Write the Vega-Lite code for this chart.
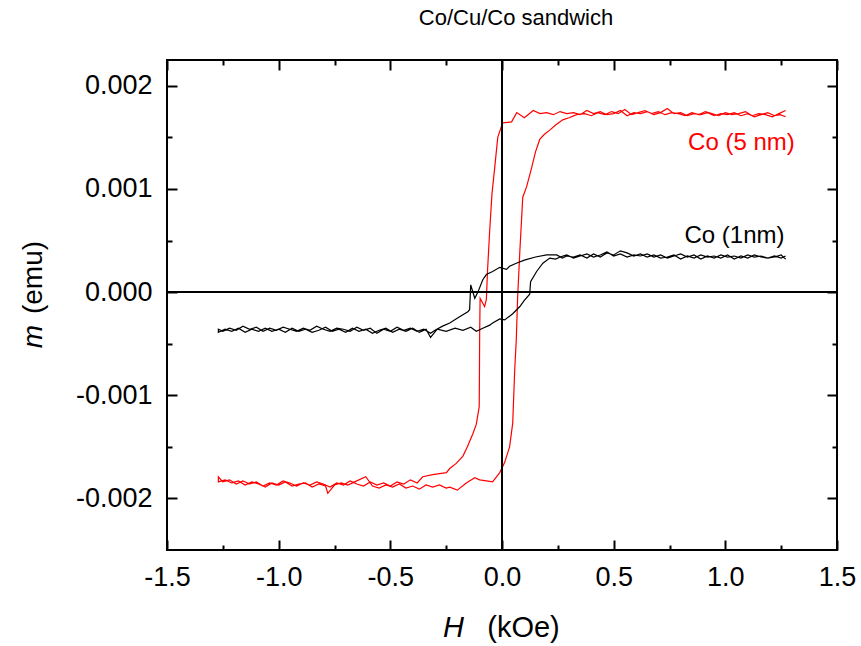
{
  "$schema": "https://vega.github.io/schema/vega-lite/v6.json",
  "width": 670,
  "height": 490,
  "autosize": {"type": "none"},
  "padding": {"left": 167, "top": 60, "right": 24, "bottom": 96},
  "title": {"text": "Co/Cu/Co sandwich", "font": "Liberation Sans", "fontSize": 22, "fontWeight": "normal", "color": "black", "anchor": "middle", "dx": 14, "offset": 12, "baseline": "alphabetic"},
  "config": {
    "view": {"stroke": "black", "strokeWidth": 2},
    "axis": {"grid": false, "domain": false, "ticks": true, "tickColor": "black", "tickWidth": 2, "labelFont": "Liberation Sans", "labelFontSize": 27, "labelColor": "black", "labelFlush": false, "labelOverlap": false, "labelBound": false, "titleFont": "Liberation Sans", "titleFontSize": 28, "titleFontWeight": "normal", "titleColor": "black"}
  },
  "resolve": {"axis": {"x": "independent", "y": "independent"}},
  "layer": [
    {
      "data": {"values": [
        {"s":"Co (5 nm)","i":0,"H":1.27,"m":0.00170},
        {"s":"Co (5 nm)","i":1,"H":1.245,"m":0.00172},
        {"s":"Co (5 nm)","i":2,"H":1.22,"m":0.00171},
        {"s":"Co (5 nm)","i":3,"H":1.19,"m":0.00174},
        {"s":"Co (5 nm)","i":4,"H":1.16,"m":0.00172},
        {"s":"Co (5 nm)","i":5,"H":1.13,"m":0.00170},
        {"s":"Co (5 nm)","i":6,"H":1.10,"m":0.00173},
        {"s":"Co (5 nm)","i":7,"H":1.07,"m":0.00171},
        {"s":"Co (5 nm)","i":8,"H":1.04,"m":0.00174},
        {"s":"Co (5 nm)","i":9,"H":1.01,"m":0.00172},
        {"s":"Co (5 nm)","i":10,"H":0.98,"m":0.00173},
        {"s":"Co (5 nm)","i":11,"H":0.95,"m":0.00171},
        {"s":"Co (5 nm)","i":12,"H":0.92,"m":0.00174},
        {"s":"Co (5 nm)","i":13,"H":0.89,"m":0.00172},
        {"s":"Co (5 nm)","i":14,"H":0.86,"m":0.00173},
        {"s":"Co (5 nm)","i":15,"H":0.83,"m":0.00171},
        {"s":"Co (5 nm)","i":16,"H":0.80,"m":0.00174},
        {"s":"Co (5 nm)","i":17,"H":0.77,"m":0.00173},
        {"s":"Co (5 nm)","i":18,"H":0.74,"m":0.00178},
        {"s":"Co (5 nm)","i":19,"H":0.71,"m":0.00174},
        {"s":"Co (5 nm)","i":20,"H":0.68,"m":0.00172},
        {"s":"Co (5 nm)","i":21,"H":0.65,"m":0.00175},
        {"s":"Co (5 nm)","i":22,"H":0.62,"m":0.00173},
        {"s":"Co (5 nm)","i":23,"H":0.59,"m":0.00174},
        {"s":"Co (5 nm)","i":24,"H":0.56,"m":0.00171},
        {"s":"Co (5 nm)","i":25,"H":0.53,"m":0.00176},
        {"s":"Co (5 nm)","i":26,"H":0.50,"m":0.00173},
        {"s":"Co (5 nm)","i":27,"H":0.47,"m":0.00172},
        {"s":"Co (5 nm)","i":28,"H":0.44,"m":0.00175},
        {"s":"Co (5 nm)","i":29,"H":0.41,"m":0.00173},
        {"s":"Co (5 nm)","i":30,"H":0.38,"m":0.00176},
        {"s":"Co (5 nm)","i":31,"H":0.35,"m":0.00172},
        {"s":"Co (5 nm)","i":32,"H":0.32,"m":0.00174},
        {"s":"Co (5 nm)","i":33,"H":0.29,"m":0.00173},
        {"s":"Co (5 nm)","i":34,"H":0.26,"m":0.00175},
        {"s":"Co (5 nm)","i":35,"H":0.23,"m":0.00172},
        {"s":"Co (5 nm)","i":36,"H":0.20,"m":0.00174},
        {"s":"Co (5 nm)","i":37,"H":0.17,"m":0.00173},
        {"s":"Co (5 nm)","i":38,"H":0.14,"m":0.00176},
        {"s":"Co (5 nm)","i":39,"H":0.10,"m":0.00169},
        {"s":"Co (5 nm)","i":40,"H":0.066,"m":0.00174},
        {"s":"Co (5 nm)","i":41,"H":0.043,"m":0.00165},
        {"s":"Co (5 nm)","i":42,"H":0.003,"m":0.00164},
        {"s":"Co (5 nm)","i":43,"H":-0.019,"m":0.00150},
        {"s":"Co (5 nm)","i":44,"H":-0.033,"m":0.00120},
        {"s":"Co (5 nm)","i":45,"H":-0.045,"m":0.00095},
        {"s":"Co (5 nm)","i":46,"H":-0.055,"m":0.00060},
        {"s":"Co (5 nm)","i":47,"H":-0.065,"m":0.00020},
        {"s":"Co (5 nm)","i":48,"H":-0.070,"m":-0.00007},
        {"s":"Co (5 nm)","i":49,"H":-0.078,"m":-0.00014},
        {"s":"Co (5 nm)","i":50,"H":-0.098,"m":-0.00006},
        {"s":"Co (5 nm)","i":51,"H":-0.100,"m":-0.00040},
        {"s":"Co (5 nm)","i":52,"H":-0.101,"m":-0.00080},
        {"s":"Co (5 nm)","i":53,"H":-0.102,"m":-0.00111},
        {"s":"Co (5 nm)","i":54,"H":-0.115,"m":-0.00128},
        {"s":"Co (5 nm)","i":55,"H":-0.130,"m":-0.00137},
        {"s":"Co (5 nm)","i":56,"H":-0.155,"m":-0.00150},
        {"s":"Co (5 nm)","i":57,"H":-0.175,"m":-0.00159},
        {"s":"Co (5 nm)","i":58,"H":-0.205,"m":-0.00166},
        {"s":"Co (5 nm)","i":59,"H":-0.234,"m":-0.00171},
        {"s":"Co (5 nm)","i":60,"H":-0.249,"m":-0.00175},
        {"s":"Co (5 nm)","i":61,"H":-0.28,"m":-0.00176},
        {"s":"Co (5 nm)","i":62,"H":-0.31,"m":-0.00177},
        {"s":"Co (5 nm)","i":63,"H":-0.355,"m":-0.00179},
        {"s":"Co (5 nm)","i":64,"H":-0.38,"m":-0.00185},
        {"s":"Co (5 nm)","i":65,"H":-0.41,"m":-0.00182},
        {"s":"Co (5 nm)","i":66,"H":-0.44,"m":-0.00186},
        {"s":"Co (5 nm)","i":67,"H":-0.47,"m":-0.00184},
        {"s":"Co (5 nm)","i":68,"H":-0.50,"m":-0.00188},
        {"s":"Co (5 nm)","i":69,"H":-0.53,"m":-0.00185},
        {"s":"Co (5 nm)","i":70,"H":-0.56,"m":-0.00187},
        {"s":"Co (5 nm)","i":71,"H":-0.59,"m":-0.00184},
        {"s":"Co (5 nm)","i":72,"H":-0.62,"m":-0.00188},
        {"s":"Co (5 nm)","i":73,"H":-0.65,"m":-0.00186},
        {"s":"Co (5 nm)","i":74,"H":-0.68,"m":-0.00183},
        {"s":"Co (5 nm)","i":75,"H":-0.71,"m":-0.00187},
        {"s":"Co (5 nm)","i":76,"H":-0.74,"m":-0.00185},
        {"s":"Co (5 nm)","i":77,"H":-0.77,"m":-0.00189},
        {"s":"Co (5 nm)","i":78,"H":-0.80,"m":-0.00186},
        {"s":"Co (5 nm)","i":79,"H":-0.83,"m":-0.00184},
        {"s":"Co (5 nm)","i":80,"H":-0.86,"m":-0.00187},
        {"s":"Co (5 nm)","i":81,"H":-0.89,"m":-0.00185},
        {"s":"Co (5 nm)","i":82,"H":-0.92,"m":-0.00188},
        {"s":"Co (5 nm)","i":83,"H":-0.95,"m":-0.00185},
        {"s":"Co (5 nm)","i":84,"H":-0.98,"m":-0.00183},
        {"s":"Co (5 nm)","i":85,"H":-1.01,"m":-0.00187},
        {"s":"Co (5 nm)","i":86,"H":-1.04,"m":-0.00185},
        {"s":"Co (5 nm)","i":87,"H":-1.07,"m":-0.00188},
        {"s":"Co (5 nm)","i":88,"H":-1.10,"m":-0.00184},
        {"s":"Co (5 nm)","i":89,"H":-1.13,"m":-0.00186},
        {"s":"Co (5 nm)","i":90,"H":-1.16,"m":-0.00183},
        {"s":"Co (5 nm)","i":91,"H":-1.19,"m":-0.00186},
        {"s":"Co (5 nm)","i":92,"H":-1.22,"m":-0.00182},
        {"s":"Co (5 nm)","i":93,"H":-1.25,"m":-0.00184},
        {"s":"Co (5 nm)","i":94,"H":-1.27,"m":-0.00179},
        {"s":"Co (5 nm)","i":95,"H":-1.27,"m":-0.00184},
        {"s":"Co (5 nm)","i":96,"H":-1.24,"m":-0.00182},
        {"s":"Co (5 nm)","i":97,"H":-1.21,"m":-0.00185},
        {"s":"Co (5 nm)","i":98,"H":-1.18,"m":-0.00183},
        {"s":"Co (5 nm)","i":99,"H":-1.15,"m":-0.00187},
        {"s":"Co (5 nm)","i":100,"H":-1.12,"m":-0.00184},
        {"s":"Co (5 nm)","i":101,"H":-1.09,"m":-0.00186},
        {"s":"Co (5 nm)","i":102,"H":-1.06,"m":-0.00189},
        {"s":"Co (5 nm)","i":103,"H":-1.03,"m":-0.00185},
        {"s":"Co (5 nm)","i":104,"H":-1.00,"m":-0.00187},
        {"s":"Co (5 nm)","i":105,"H":-0.97,"m":-0.00184},
        {"s":"Co (5 nm)","i":106,"H":-0.94,"m":-0.00188},
        {"s":"Co (5 nm)","i":107,"H":-0.91,"m":-0.00186},
        {"s":"Co (5 nm)","i":108,"H":-0.88,"m":-0.00185},
        {"s":"Co (5 nm)","i":109,"H":-0.85,"m":-0.00189},
        {"s":"Co (5 nm)","i":110,"H":-0.82,"m":-0.00186},
        {"s":"Co (5 nm)","i":111,"H":-0.79,"m":-0.00188},
        {"s":"Co (5 nm)","i":112,"H":-0.78,"m":-0.00195},
        {"s":"Co (5 nm)","i":113,"H":-0.75,"m":-0.00187},
        {"s":"Co (5 nm)","i":114,"H":-0.72,"m":-0.00185},
        {"s":"Co (5 nm)","i":115,"H":-0.69,"m":-0.00187},
        {"s":"Co (5 nm)","i":116,"H":-0.66,"m":-0.00184},
        {"s":"Co (5 nm)","i":117,"H":-0.61,"m":-0.00179},
        {"s":"Co (5 nm)","i":118,"H":-0.58,"m":-0.00188},
        {"s":"Co (5 nm)","i":119,"H":-0.55,"m":-0.00190},
        {"s":"Co (5 nm)","i":120,"H":-0.52,"m":-0.00187},
        {"s":"Co (5 nm)","i":121,"H":-0.49,"m":-0.00189},
        {"s":"Co (5 nm)","i":122,"H":-0.46,"m":-0.00186},
        {"s":"Co (5 nm)","i":123,"H":-0.43,"m":-0.00190},
        {"s":"Co (5 nm)","i":124,"H":-0.40,"m":-0.00188},
        {"s":"Co (5 nm)","i":125,"H":-0.37,"m":-0.00191},
        {"s":"Co (5 nm)","i":126,"H":-0.34,"m":-0.00187},
        {"s":"Co (5 nm)","i":127,"H":-0.31,"m":-0.00189},
        {"s":"Co (5 nm)","i":128,"H":-0.28,"m":-0.00187},
        {"s":"Co (5 nm)","i":129,"H":-0.25,"m":-0.00190},
        {"s":"Co (5 nm)","i":130,"H":-0.234,"m":-0.00189},
        {"s":"Co (5 nm)","i":131,"H":-0.20,"m":-0.00192},
        {"s":"Co (5 nm)","i":132,"H":-0.16,"m":-0.00185},
        {"s":"Co (5 nm)","i":133,"H":-0.122,"m":-0.00180},
        {"s":"Co (5 nm)","i":134,"H":-0.10,"m":-0.00182},
        {"s":"Co (5 nm)","i":135,"H":-0.07,"m":-0.00183},
        {"s":"Co (5 nm)","i":136,"H":-0.042,"m":-0.00184},
        {"s":"Co (5 nm)","i":137,"H":-0.01,"m":-0.00175},
        {"s":"Co (5 nm)","i":138,"H":0.012,"m":-0.00165},
        {"s":"Co (5 nm)","i":139,"H":0.034,"m":-0.00150},
        {"s":"Co (5 nm)","i":140,"H":0.048,"m":-0.00127},
        {"s":"Co (5 nm)","i":141,"H":0.057,"m":-0.00075},
        {"s":"Co (5 nm)","i":142,"H":0.064,"m":-0.00046},
        {"s":"Co (5 nm)","i":143,"H":0.070,"m":-0.00005},
        {"s":"Co (5 nm)","i":144,"H":0.080,"m":0.00040},
        {"s":"Co (5 nm)","i":145,"H":0.093,"m":0.00092},
        {"s":"Co (5 nm)","i":146,"H":0.110,"m":0.00102},
        {"s":"Co (5 nm)","i":147,"H":0.132,"m":0.00120},
        {"s":"Co (5 nm)","i":148,"H":0.150,"m":0.00136},
        {"s":"Co (5 nm)","i":149,"H":0.169,"m":0.00148},
        {"s":"Co (5 nm)","i":150,"H":0.190,"m":0.00153},
        {"s":"Co (5 nm)","i":151,"H":0.214,"m":0.00157},
        {"s":"Co (5 nm)","i":152,"H":0.240,"m":0.00162},
        {"s":"Co (5 nm)","i":153,"H":0.272,"m":0.00167},
        {"s":"Co (5 nm)","i":154,"H":0.300,"m":0.00169},
        {"s":"Co (5 nm)","i":155,"H":0.334,"m":0.00172},
        {"s":"Co (5 nm)","i":156,"H":0.37,"m":0.00173},
        {"s":"Co (5 nm)","i":157,"H":0.40,"m":0.00171},
        {"s":"Co (5 nm)","i":158,"H":0.43,"m":0.00174},
        {"s":"Co (5 nm)","i":159,"H":0.46,"m":0.00172},
        {"s":"Co (5 nm)","i":160,"H":0.49,"m":0.00175},
        {"s":"Co (5 nm)","i":161,"H":0.52,"m":0.00173},
        {"s":"Co (5 nm)","i":162,"H":0.55,"m":0.00177},
        {"s":"Co (5 nm)","i":163,"H":0.58,"m":0.00172},
        {"s":"Co (5 nm)","i":164,"H":0.61,"m":0.00174},
        {"s":"Co (5 nm)","i":165,"H":0.64,"m":0.00176},
        {"s":"Co (5 nm)","i":166,"H":0.67,"m":0.00173},
        {"s":"Co (5 nm)","i":167,"H":0.70,"m":0.00175},
        {"s":"Co (5 nm)","i":168,"H":0.73,"m":0.00172},
        {"s":"Co (5 nm)","i":169,"H":0.76,"m":0.00174},
        {"s":"Co (5 nm)","i":170,"H":0.79,"m":0.00173},
        {"s":"Co (5 nm)","i":171,"H":0.82,"m":0.00171},
        {"s":"Co (5 nm)","i":172,"H":0.85,"m":0.00174},
        {"s":"Co (5 nm)","i":173,"H":0.88,"m":0.00172},
        {"s":"Co (5 nm)","i":174,"H":0.91,"m":0.00175},
        {"s":"Co (5 nm)","i":175,"H":0.94,"m":0.00173},
        {"s":"Co (5 nm)","i":176,"H":0.97,"m":0.00171},
        {"s":"Co (5 nm)","i":177,"H":1.00,"m":0.00174},
        {"s":"Co (5 nm)","i":178,"H":1.03,"m":0.00172},
        {"s":"Co (5 nm)","i":179,"H":1.06,"m":0.00173},
        {"s":"Co (5 nm)","i":180,"H":1.09,"m":0.00175},
        {"s":"Co (5 nm)","i":181,"H":1.12,"m":0.00171},
        {"s":"Co (5 nm)","i":182,"H":1.15,"m":0.00173},
        {"s":"Co (5 nm)","i":183,"H":1.18,"m":0.00172},
        {"s":"Co (5 nm)","i":184,"H":1.21,"m":0.00170},
        {"s":"Co (5 nm)","i":185,"H":1.24,"m":0.00173},
        {"s":"Co (5 nm)","i":186,"H":1.27,"m":0.00176},
        {"s":"Co (1nm)","i":0,"H":1.27,"m":0.00035},
        {"s":"Co (1nm)","i":1,"H":1.25,"m":0.00033},
        {"s":"Co (1nm)","i":2,"H":1.22,"m":0.00035},
        {"s":"Co (1nm)","i":3,"H":1.19,"m":0.00033},
        {"s":"Co (1nm)","i":4,"H":1.16,"m":0.00034},
        {"s":"Co (1nm)","i":5,"H":1.13,"m":0.00036},
        {"s":"Co (1nm)","i":6,"H":1.10,"m":0.00033},
        {"s":"Co (1nm)","i":7,"H":1.07,"m":0.00035},
        {"s":"Co (1nm)","i":8,"H":1.04,"m":0.00032},
        {"s":"Co (1nm)","i":9,"H":1.01,"m":0.00036},
        {"s":"Co (1nm)","i":10,"H":0.98,"m":0.00033},
        {"s":"Co (1nm)","i":11,"H":0.95,"m":0.00035},
        {"s":"Co (1nm)","i":12,"H":0.92,"m":0.00034},
        {"s":"Co (1nm)","i":13,"H":0.89,"m":0.00036},
        {"s":"Co (1nm)","i":14,"H":0.86,"m":0.00033},
        {"s":"Co (1nm)","i":15,"H":0.83,"m":0.00035},
        {"s":"Co (1nm)","i":16,"H":0.80,"m":0.00032},
        {"s":"Co (1nm)","i":17,"H":0.77,"m":0.00036},
        {"s":"Co (1nm)","i":18,"H":0.74,"m":0.00034},
        {"s":"Co (1nm)","i":19,"H":0.71,"m":0.00033},
        {"s":"Co (1nm)","i":20,"H":0.68,"m":0.00036},
        {"s":"Co (1nm)","i":21,"H":0.65,"m":0.00034},
        {"s":"Co (1nm)","i":22,"H":0.62,"m":0.00037},
        {"s":"Co (1nm)","i":23,"H":0.59,"m":0.00035},
        {"s":"Co (1nm)","i":24,"H":0.56,"m":0.00038},
        {"s":"Co (1nm)","i":25,"H":0.53,"m":0.00040},
        {"s":"Co (1nm)","i":26,"H":0.50,"m":0.00036},
        {"s":"Co (1nm)","i":27,"H":0.47,"m":0.00038},
        {"s":"Co (1nm)","i":28,"H":0.44,"m":0.00034},
        {"s":"Co (1nm)","i":29,"H":0.41,"m":0.00037},
        {"s":"Co (1nm)","i":30,"H":0.38,"m":0.00033},
        {"s":"Co (1nm)","i":31,"H":0.35,"m":0.00036},
        {"s":"Co (1nm)","i":32,"H":0.32,"m":0.00034},
        {"s":"Co (1nm)","i":33,"H":0.29,"m":0.00035},
        {"s":"Co (1nm)","i":34,"H":0.27,"m":0.00033},
        {"s":"Co (1nm)","i":35,"H":0.245,"m":0.00036},
        {"s":"Co (1nm)","i":36,"H":0.20,"m":0.00036},
        {"s":"Co (1nm)","i":37,"H":0.15,"m":0.00034},
        {"s":"Co (1nm)","i":38,"H":0.10,"m":0.00031},
        {"s":"Co (1nm)","i":39,"H":0.064,"m":0.00028},
        {"s":"Co (1nm)","i":40,"H":0.034,"m":0.00025},
        {"s":"Co (1nm)","i":41,"H":0.02,"m":0.00022},
        {"s":"Co (1nm)","i":42,"H":-0.01,"m":0.00024},
        {"s":"Co (1nm)","i":43,"H":-0.042,"m":0.00020},
        {"s":"Co (1nm)","i":44,"H":-0.07,"m":0.00017},
        {"s":"Co (1nm)","i":45,"H":-0.086,"m":0.00012},
        {"s":"Co (1nm)","i":46,"H":-0.108,"m":0.00000},
        {"s":"Co (1nm)","i":47,"H":-0.122,"m":-0.00006},
        {"s":"Co (1nm)","i":48,"H":-0.140,"m":0.00007},
        {"s":"Co (1nm)","i":49,"H":-0.145,"m":-0.00017},
        {"s":"Co (1nm)","i":50,"H":-0.153,"m":-0.00019},
        {"s":"Co (1nm)","i":51,"H":-0.19,"m":-0.00024},
        {"s":"Co (1nm)","i":52,"H":-0.234,"m":-0.00030},
        {"s":"Co (1nm)","i":53,"H":-0.266,"m":-0.00033},
        {"s":"Co (1nm)","i":54,"H":-0.30,"m":-0.00037},
        {"s":"Co (1nm)","i":55,"H":-0.32,"m":-0.00040},
        {"s":"Co (1nm)","i":56,"H":-0.35,"m":-0.00036},
        {"s":"Co (1nm)","i":57,"H":-0.38,"m":-0.00038},
        {"s":"Co (1nm)","i":58,"H":-0.41,"m":-0.00035},
        {"s":"Co (1nm)","i":59,"H":-0.44,"m":-0.00037},
        {"s":"Co (1nm)","i":60,"H":-0.47,"m":-0.00034},
        {"s":"Co (1nm)","i":61,"H":-0.50,"m":-0.00038},
        {"s":"Co (1nm)","i":62,"H":-0.53,"m":-0.00036},
        {"s":"Co (1nm)","i":63,"H":-0.56,"m":-0.00040},
        {"s":"Co (1nm)","i":64,"H":-0.59,"m":-0.00035},
        {"s":"Co (1nm)","i":65,"H":-0.62,"m":-0.00037},
        {"s":"Co (1nm)","i":66,"H":-0.65,"m":-0.00034},
        {"s":"Co (1nm)","i":67,"H":-0.68,"m":-0.00038},
        {"s":"Co (1nm)","i":68,"H":-0.71,"m":-0.00036},
        {"s":"Co (1nm)","i":69,"H":-0.74,"m":-0.00035},
        {"s":"Co (1nm)","i":70,"H":-0.77,"m":-0.00038},
        {"s":"Co (1nm)","i":71,"H":-0.80,"m":-0.00036},
        {"s":"Co (1nm)","i":72,"H":-0.83,"m":-0.00033},
        {"s":"Co (1nm)","i":73,"H":-0.86,"m":-0.00037},
        {"s":"Co (1nm)","i":74,"H":-0.89,"m":-0.00035},
        {"s":"Co (1nm)","i":75,"H":-0.92,"m":-0.00038},
        {"s":"Co (1nm)","i":76,"H":-0.95,"m":-0.00036},
        {"s":"Co (1nm)","i":77,"H":-0.98,"m":-0.00034},
        {"s":"Co (1nm)","i":78,"H":-1.01,"m":-0.00037},
        {"s":"Co (1nm)","i":79,"H":-1.04,"m":-0.00035},
        {"s":"Co (1nm)","i":80,"H":-1.07,"m":-0.00038},
        {"s":"Co (1nm)","i":81,"H":-1.10,"m":-0.00034},
        {"s":"Co (1nm)","i":82,"H":-1.13,"m":-0.00036},
        {"s":"Co (1nm)","i":83,"H":-1.16,"m":-0.00033},
        {"s":"Co (1nm)","i":84,"H":-1.19,"m":-0.00037},
        {"s":"Co (1nm)","i":85,"H":-1.22,"m":-0.00035},
        {"s":"Co (1nm)","i":86,"H":-1.25,"m":-0.00038},
        {"s":"Co (1nm)","i":87,"H":-1.27,"m":-0.00036},
        {"s":"Co (1nm)","i":88,"H":-1.27,"m":-0.00039},
        {"s":"Co (1nm)","i":89,"H":-1.24,"m":-0.00036},
        {"s":"Co (1nm)","i":90,"H":-1.21,"m":-0.00038},
        {"s":"Co (1nm)","i":91,"H":-1.18,"m":-0.00035},
        {"s":"Co (1nm)","i":92,"H":-1.15,"m":-0.00039},
        {"s":"Co (1nm)","i":93,"H":-1.12,"m":-0.00036},
        {"s":"Co (1nm)","i":94,"H":-1.09,"m":-0.00038},
        {"s":"Co (1nm)","i":95,"H":-1.06,"m":-0.00035},
        {"s":"Co (1nm)","i":96,"H":-1.03,"m":-0.00038},
        {"s":"Co (1nm)","i":97,"H":-1.00,"m":-0.00036},
        {"s":"Co (1nm)","i":98,"H":-0.97,"m":-0.00039},
        {"s":"Co (1nm)","i":99,"H":-0.94,"m":-0.00035},
        {"s":"Co (1nm)","i":100,"H":-0.91,"m":-0.00038},
        {"s":"Co (1nm)","i":101,"H":-0.88,"m":-0.00036},
        {"s":"Co (1nm)","i":102,"H":-0.85,"m":-0.00039},
        {"s":"Co (1nm)","i":103,"H":-0.82,"m":-0.00037},
        {"s":"Co (1nm)","i":104,"H":-0.79,"m":-0.00034},
        {"s":"Co (1nm)","i":105,"H":-0.76,"m":-0.00038},
        {"s":"Co (1nm)","i":106,"H":-0.73,"m":-0.00036},
        {"s":"Co (1nm)","i":107,"H":-0.70,"m":-0.00039},
        {"s":"Co (1nm)","i":108,"H":-0.67,"m":-0.00035},
        {"s":"Co (1nm)","i":109,"H":-0.64,"m":-0.00038},
        {"s":"Co (1nm)","i":110,"H":-0.61,"m":-0.00036},
        {"s":"Co (1nm)","i":111,"H":-0.58,"m":-0.00040},
        {"s":"Co (1nm)","i":112,"H":-0.55,"m":-0.00037},
        {"s":"Co (1nm)","i":113,"H":-0.52,"m":-0.00035},
        {"s":"Co (1nm)","i":114,"H":-0.49,"m":-0.00039},
        {"s":"Co (1nm)","i":115,"H":-0.46,"m":-0.00036},
        {"s":"Co (1nm)","i":116,"H":-0.43,"m":-0.00038},
        {"s":"Co (1nm)","i":117,"H":-0.40,"m":-0.00035},
        {"s":"Co (1nm)","i":118,"H":-0.37,"m":-0.00039},
        {"s":"Co (1nm)","i":119,"H":-0.34,"m":-0.00036},
        {"s":"Co (1nm)","i":120,"H":-0.32,"m":-0.00044},
        {"s":"Co (1nm)","i":121,"H":-0.29,"m":-0.00036},
        {"s":"Co (1nm)","i":122,"H":-0.25,"m":-0.00038},
        {"s":"Co (1nm)","i":123,"H":-0.21,"m":-0.00035},
        {"s":"Co (1nm)","i":124,"H":-0.175,"m":-0.00037},
        {"s":"Co (1nm)","i":125,"H":-0.14,"m":-0.00034},
        {"s":"Co (1nm)","i":126,"H":-0.115,"m":-0.00038},
        {"s":"Co (1nm)","i":127,"H":-0.086,"m":-0.00035},
        {"s":"Co (1nm)","i":128,"H":-0.055,"m":-0.00032},
        {"s":"Co (1nm)","i":129,"H":-0.042,"m":-0.00030},
        {"s":"Co (1nm)","i":130,"H":-0.01,"m":-0.00026},
        {"s":"Co (1nm)","i":131,"H":0.012,"m":-0.00027},
        {"s":"Co (1nm)","i":132,"H":0.048,"m":-0.00021},
        {"s":"Co (1nm)","i":133,"H":0.08,"m":-0.00014},
        {"s":"Co (1nm)","i":134,"H":0.10,"m":-0.00008},
        {"s":"Co (1nm)","i":135,"H":0.124,"m":-0.00002},
        {"s":"Co (1nm)","i":136,"H":0.128,"m":0.00010},
        {"s":"Co (1nm)","i":137,"H":0.155,"m":0.00020},
        {"s":"Co (1nm)","i":138,"H":0.183,"m":0.00028},
        {"s":"Co (1nm)","i":139,"H":0.214,"m":0.00033},
        {"s":"Co (1nm)","i":140,"H":0.24,"m":0.00032},
        {"s":"Co (1nm)","i":141,"H":0.26,"m":0.00034},
        {"s":"Co (1nm)","i":142,"H":0.29,"m":0.00036},
        {"s":"Co (1nm)","i":143,"H":0.32,"m":0.00033},
        {"s":"Co (1nm)","i":144,"H":0.35,"m":0.00035},
        {"s":"Co (1nm)","i":145,"H":0.38,"m":0.00037},
        {"s":"Co (1nm)","i":146,"H":0.41,"m":0.00034},
        {"s":"Co (1nm)","i":147,"H":0.44,"m":0.00036},
        {"s":"Co (1nm)","i":148,"H":0.47,"m":0.00039},
        {"s":"Co (1nm)","i":149,"H":0.50,"m":0.00035},
        {"s":"Co (1nm)","i":150,"H":0.53,"m":0.00037},
        {"s":"Co (1nm)","i":151,"H":0.56,"m":0.00034},
        {"s":"Co (1nm)","i":152,"H":0.59,"m":0.00036},
        {"s":"Co (1nm)","i":153,"H":0.62,"m":0.00035},
        {"s":"Co (1nm)","i":154,"H":0.65,"m":0.00037},
        {"s":"Co (1nm)","i":155,"H":0.68,"m":0.00034},
        {"s":"Co (1nm)","i":156,"H":0.71,"m":0.00036},
        {"s":"Co (1nm)","i":157,"H":0.74,"m":0.00033},
        {"s":"Co (1nm)","i":158,"H":0.77,"m":0.00035},
        {"s":"Co (1nm)","i":159,"H":0.80,"m":0.00037},
        {"s":"Co (1nm)","i":160,"H":0.83,"m":0.00034},
        {"s":"Co (1nm)","i":161,"H":0.86,"m":0.00036},
        {"s":"Co (1nm)","i":162,"H":0.89,"m":0.00032},
        {"s":"Co (1nm)","i":163,"H":0.92,"m":0.00035},
        {"s":"Co (1nm)","i":164,"H":0.95,"m":0.00033},
        {"s":"Co (1nm)","i":165,"H":0.98,"m":0.00036},
        {"s":"Co (1nm)","i":166,"H":1.01,"m":0.00034},
        {"s":"Co (1nm)","i":167,"H":1.04,"m":0.00035},
        {"s":"Co (1nm)","i":168,"H":1.07,"m":0.00033},
        {"s":"Co (1nm)","i":169,"H":1.10,"m":0.00036},
        {"s":"Co (1nm)","i":170,"H":1.13,"m":0.00034},
        {"s":"Co (1nm)","i":171,"H":1.16,"m":0.00035},
        {"s":"Co (1nm)","i":172,"H":1.19,"m":0.00033},
        {"s":"Co (1nm)","i":173,"H":1.22,"m":0.00034},
        {"s":"Co (1nm)","i":174,"H":1.25,"m":0.00036},
        {"s":"Co (1nm)","i":175,"H":1.27,"m":0.00032}
      ]},
      "mark": {"type": "line", "strokeWidth": 1.2, "clip": true},
      "encoding": {
        "x": {"field": "H", "type": "quantitative", "scale": {"domain": [-1.5, 1.5], "nice": false, "zero": false},
              "axis": {"orient": "bottom", "offset": -10, "values": [-1.5, -1, -0.5, 0, 0.5, 1, 1.5], "labelExpr": "(datum.value<0?'-':'')+format(abs(datum.value),'.1f')", "tickSize": 10, "labelPadding": 14, "title": "(kOe)", "titleFontSize": 29, "titleX": 356, "titleY": 87, "titleAlign": "center", "titleBaseline": "middle", "titleAngle": 0}},
        "y": {"field": "m", "type": "quantitative", "scale": {"domain": [-0.0025, 0.00225], "nice": false, "zero": false},
              "axis": {"orient": "left", "offset": -10, "values": [-0.002, -0.001, 0, 0.001, 0.002], "labelExpr": "(datum.value<0?'-':'')+format(abs(datum.value),'.3f')", "tickSize": 10, "labelPadding": 15, "title": "(emu)", "titleX": -144, "titleY": 217, "titleAlign": "center", "titleBaseline": "middle", "titleAngle": -90}},
        "color": {"field": "s", "type": "nominal", "scale": {"domain": ["Co (5 nm)", "Co (1nm)"], "range": ["#ff0000", "#000000"]}, "legend": null},
        "order": {"field": "i", "type": "quantitative"}
      }
    },
    {
      "data": {"values": [{"H": 0, "m": 0}]},
      "mark": {"type": "rule", "color": "black", "strokeWidth": 2},
      "encoding": {
        "x": {"field": "H", "type": "quantitative",
              "axis": {"orient": "bottom", "offset": -5, "values": [-1.25, -0.75, -0.25, 0.25, 0.75, 1.25], "labels": false, "tickSize": 5, "title": "H", "titleFontStyle": "italic", "titleFontSize": 29, "titleX": 286, "titleY": 82, "titleAlign": "center", "titleBaseline": "middle", "titleAngle": 0}}
      }
    },
    {
      "data": {"values": [{"H": 0, "m": 0}]},
      "mark": {"type": "rule", "color": "black", "strokeWidth": 2},
      "encoding": {
        "y": {"field": "m", "type": "quantitative",
              "axis": {"orient": "left", "offset": -5, "values": [-0.0015, -0.0005, 0.0005, 0.0015], "labels": false, "tickSize": 5, "title": "m", "titleFontStyle": "italic", "titleX": -139, "titleY": 276, "titleAlign": "center", "titleBaseline": "middle", "titleAngle": -90}}
      }
    },
    {
      "data": {"values": [{"s": "Co (5 nm)", "H": 1.311, "m": 0.00138}]},
      "mark": {"type": "text", "align": "right", "baseline": "alphabetic", "font": "Liberation Sans", "fontSize": 24},
      "encoding": {
        "x": {"field": "H", "type": "quantitative",
              "axis": {"orient": "top", "offset": -10, "values": [-1.5, -1, -0.5, 0, 0.5, 1, 1.5], "labels": false, "tickSize": 10, "title": null}},
        "y": {"field": "m", "type": "quantitative",
              "axis": {"orient": "right", "offset": -10, "values": [-0.002, -0.001, 0, 0.001, 0.002], "labels": false, "tickSize": 10, "title": null}},
        "text": {"field": "s"},
        "color": {"field": "s", "type": "nominal", "legend": null}
      }
    },
    {
      "data": {"values": [{"s": "Co (1nm)", "H": 1.265, "m": 0.000478}]},
      "mark": {"type": "text", "align": "right", "baseline": "alphabetic", "font": "Liberation Sans", "fontSize": 24},
      "encoding": {
        "x": {"field": "H", "type": "quantitative",
              "axis": {"orient": "top", "offset": -5, "values": [-1.25, -0.75, -0.25, 0.25, 0.75, 1.25], "labels": false, "tickSize": 5, "title": null}},
        "y": {"field": "m", "type": "quantitative",
              "axis": {"orient": "right", "offset": -5, "values": [-0.0015, -0.0005, 0.0005, 0.0015], "labels": false, "tickSize": 5, "title": null}},
        "text": {"field": "s"},
        "color": {"field": "s", "type": "nominal", "legend": null}
      }
    }
  ]
}
